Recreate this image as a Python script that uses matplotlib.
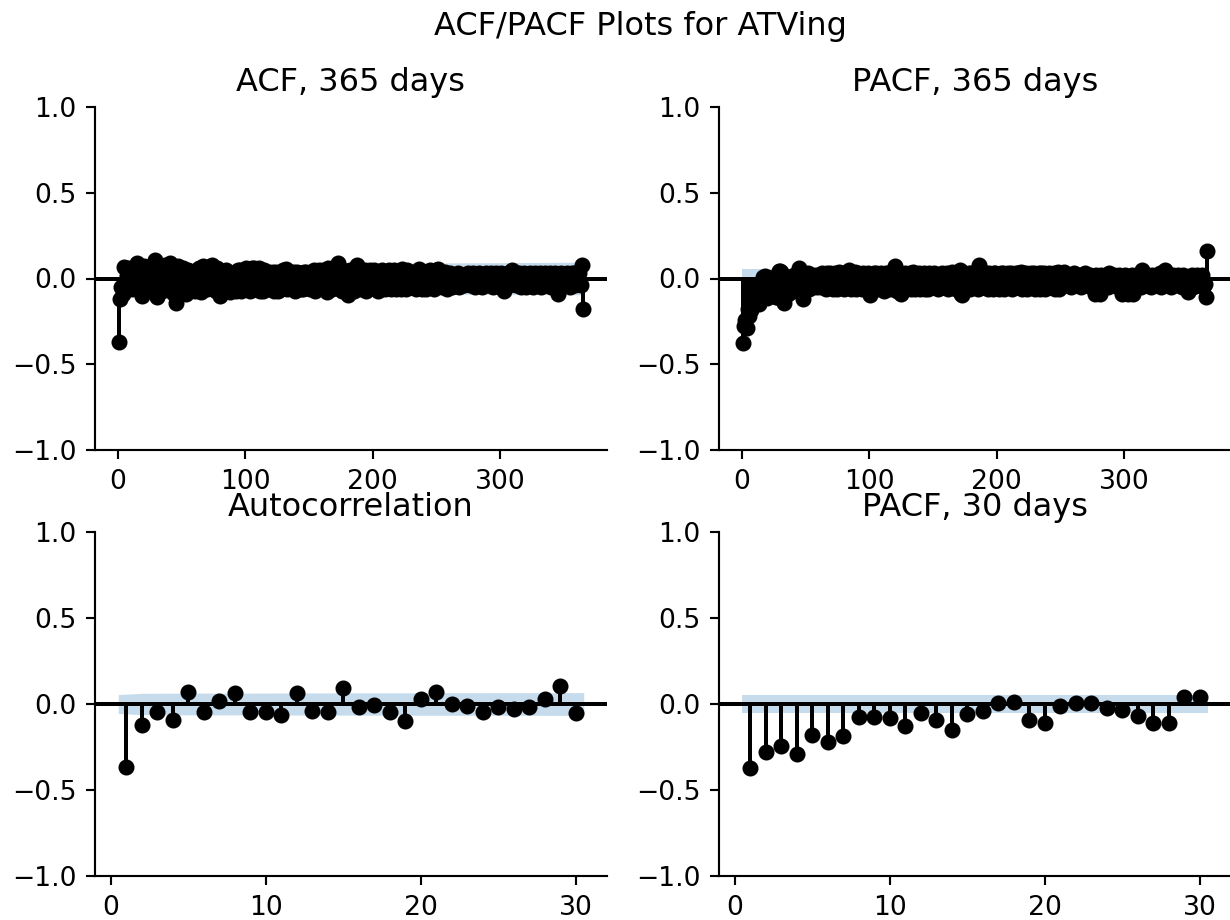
import numpy as np
import matplotlib
matplotlib.use("Agg")
import matplotlib.pyplot as plt

# ---------------- data ----------------
suptitle = "ACF/PACF Plots for ATVing"
titles = ["ACF, 365 days", "PACF, 365 days", "Autocorrelation", "PACF, 30 days"]
n_obs = 1270  # number of observations implied by the confidence band width

acf_30 = [-0.368, -0.12, -0.048, -0.093, 0.068, -0.048, 0.016, 0.064, -0.048, -0.045,
          -0.064, 0.064, -0.04, -0.045, 0.091, -0.02, -0.006, -0.045, -0.1, 0.03,
          0.072, 0.0, -0.014, -0.048, -0.02, -0.03, -0.02, 0.03, 0.107, -0.052]

pacf_30 = [-0.374, -0.277, -0.244, -0.291, -0.18, -0.219, -0.186, -0.074, -0.074, -0.079,
           -0.128, -0.05, -0.093, -0.151, -0.058, -0.039, 0.008, 0.014, -0.093, -0.112,
           -0.012, 0.004, 0.004, -0.021, -0.035, -0.07, -0.109, -0.109, 0.043, 0.043]

acf_365_tail = [
    -0.11, 0.04, -0.06, 0.06, -0.07, 0.03, 0.08, -0.06, 0.05, -0.04,
    0.09, -0.07, 0.05, -0.09, 0.04, -0.14, 0.07, -0.05, 0.03, -0.08,
    0.06, -0.05, 0.04, -0.09, 0.05, 0.045, -0.07, 0.04, -0.06, 0.04,
    -0.07, 0.05, -0.04, 0.06, -0.08, 0.03, 0.07, -0.05, 0.04, -0.06,
    0.05, -0.04, 0.07, 0.08, -0.06, 0.04, -0.07, 0.06, -0.05, -0.1,
    0.04, -0.08, 0.03, -0.06, 0.05, -0.04, 0.03, -0.08, 0.02, 0.03,
    -0.06, 0.04, -0.07, 0.05, -0.04, 0.05, -0.07, 0.03, -0.05, 0.05,
    0.06, -0.06, 0.03, -0.07, 0.06, -0.04, 0.06, -0.06, 0.04, -0.05,
    0.06, -0.07, 0.03, -0.07, 0.05, -0.05, 0.03, -0.06, 0.04, -0.04,
    0.02, 0.04, -0.07, 0.04, -0.04, -0.07, 0.03, -0.06, 0.04, 0.05,
    -0.05, 0.055, -0.06, 0.03, -0.05, 0.04, -0.04, 0.04, -0.07, 0.02,
    0.04, -0.05, 0.03, -0.06, -0.06, 0.04, -0.04, 0.04, -0.05, 0.03,
    -0.06, 0.04, -0.04, 0.05, -0.07, 0.03, -0.05, 0.05, -0.05, 0.02,
    0.05, -0.05, 0.03, -0.08, 0.06, -0.04, 0.04, -0.06, 0.03, -0.05,
    0.05, -0.04, 0.09, -0.06, 0.03, -0.07, 0.05, -0.04, 0.04, -0.07,
    -0.095, 0.05, -0.04, 0.05, -0.07, 0.03, 0.04, 0.08, -0.05, 0.03,
    -0.06, 0.04, -0.04, 0.05, -0.07, 0.03, -0.05, 0.05, -0.05, 0.02,
    0.05, -0.06, 0.03, -0.07, 0.04, -0.04, 0.05, -0.05, 0.02, -0.06,
    0.04, -0.04, 0.05, -0.06, 0.03, -0.05, 0.05, -0.06, 0.03, -0.03,
    0.04, -0.06, 0.055, -0.04, 0.03, -0.06, 0.05, -0.04, 0.04, -0.05,
    0.03, -0.05, 0.04, -0.06, 0.04, 0.055, -0.04, 0.03, -0.06, 0.02,
    0.04, -0.06, 0.03, -0.05, 0.05, -0.03, 0.04, -0.06, 0.03, 0.05,
    0.055, -0.03, 0.02, -0.05, 0.03, -0.02, 0.04, -0.06, 0.01, -0.03,
    0.03, -0.05, 0.02, -0.04, 0.01, -0.03, 0.03, -0.05, 0.02, -0.02,
    0.02, -0.04, 0.01, -0.03, 0.03, -0.04, 0.02, -0.03, 0.03, -0.05,
    0.02, -0.03, 0.03, -0.04, 0.01, -0.05, 0.02, -0.03, 0.03, -0.02,
    0.01, -0.04, 0.03, -0.05, 0.02, -0.03, 0.03, -0.04, 0.02, -0.05,
    0.03, -0.04, -0.07, 0.02, -0.03, 0.03, -0.04, 0.04, 0.05, -0.03,
    0.02, -0.04, 0.03, -0.02, 0.03, -0.05, 0.02, -0.03, 0.03, -0.05,
    0.02, -0.03, 0.03, -0.04, 0.02, -0.05, 0.03, -0.02, 0.02, -0.04,
    0.03, -0.05, 0.02, -0.03, 0.03, -0.04, 0.02, -0.03, 0.03, -0.05,
    0.02, -0.04, 0.03, -0.06, -0.09, 0.02, -0.03, 0.03, -0.04, 0.02,
    -0.03, 0.03, -0.04, 0.02, -0.05, 0.03, -0.02, 0.03, -0.04, 0.02,
    -0.03, 0.03, -0.04, 0.08, -0.175]

pacf_365_tail = [
    0.04, -0.08, -0.145, -0.05, -0.02, -0.09, 0.01, -0.06, -0.03, -0.07,
    0.02, -0.05, -0.01, 0.03, 0.06, -0.04, -0.02, -0.12, 0.01, -0.06,
    -0.04, 0.03, -0.06, -0.01, 0.02, -0.05, 0.01, 0.02, -0.05, -0.04,
    0.01, -0.05, 0.03, -0.04, 0.02, -0.06, 0.03, -0.02, 0.03, -0.05,
    0.02, -0.06, 0.03, -0.03, -0.06, 0.04, 0.0, -0.05, 0.03, -0.06,
    0.02, -0.05, 0.03, 0.05, -0.03, -0.06, 0.03, -0.03, 0.04, -0.06,
    0.03, -0.05, 0.02, -0.06, 0.03, -0.04, 0.02, -0.06, 0.03, -0.07,
    -0.095, 0.02, -0.05, 0.03, 0.03, -0.06, 0.02, -0.04, 0.03, -0.06,
    0.02, -0.07, 0.03, -0.05, 0.03, -0.06, 0.02, -0.04, 0.04, 0.07,
    -0.04, -0.07, 0.03, -0.05, -0.09, 0.02, -0.05, 0.03, -0.06, 0.02,
    -0.04, 0.03, -0.06, 0.035, -0.03, -0.06, 0.02, -0.05, 0.03, -0.06,
    0.02, -0.05, 0.03, -0.06, 0.02, -0.06, 0.03, -0.04, 0.02, -0.05,
    0.03, -0.05, 0.02, -0.06, 0.02, -0.04, 0.03, -0.05, 0.02, -0.05,
    0.03, -0.06, 0.02, -0.04, 0.04, -0.05, 0.03, -0.06, 0.02, -0.04,
    0.05, -0.09, -0.095, 0.03, -0.05, 0.02, -0.04, 0.03, -0.06, 0.03,
    -0.05, 0.03, -0.04, 0.04, -0.06, 0.08, -0.04, 0.03, -0.05, 0.02,
    -0.05, 0.03, -0.06, 0.03, -0.04, 0.02, -0.06, 0.03, 0.03, -0.05,
    0.02, -0.06, 0.03, -0.04, 0.03, -0.06, 0.02, -0.05, 0.03, -0.05,
    0.03, -0.06, 0.02, -0.04, 0.03, -0.05, 0.03, -0.04, 0.04, -0.06,
    0.03, -0.05, 0.03, -0.06, 0.02, -0.04, 0.03, -0.05, 0.03, -0.06,
    0.02, -0.05, 0.03, -0.06, 0.03, -0.04, 0.03, -0.06, 0.02, -0.05,
    0.03, -0.05, 0.02, -0.04, 0.03, -0.06, 0.03, 0.04, -0.06, 0.02,
    -0.03, 0.02, 0.04, -0.04, 0.01, -0.03, 0.02, -0.05, 0.01, -0.02,
    0.03, -0.04, 0.01, -0.03, 0.02, -0.05, 0.01, -0.02, 0.03, -0.04,
    0.01, -0.03, 0.02, -0.05, 0.01, -0.04, -0.09, 0.02, -0.03, 0.01,
    -0.09, 0.02, -0.04, 0.01, -0.03, 0.02, -0.05, 0.03, -0.02, 0.01,
    -0.04, 0.02, -0.03, 0.01, -0.05, 0.02, -0.03, -0.09, 0.01, -0.04,
    0.02, -0.05, -0.09, 0.01, -0.03, 0.02, -0.09, 0.01, -0.04, 0.02,
    -0.03, 0.02, -0.05, 0.05, -0.02, 0.01, -0.04, 0.02, -0.03, 0.01,
    -0.05, 0.02, -0.03, 0.01, -0.04, 0.02, -0.02, 0.03, -0.05, 0.02,
    -0.03, 0.05, -0.04, 0.02, -0.03, 0.01, -0.05, 0.02, -0.02, 0.01,
    -0.04, 0.02, -0.03, 0.01, -0.05, 0.02, -0.03, 0.01, -0.04, -0.08,
    0.01, -0.03, 0.02, -0.05, 0.01, -0.02, 0.02, -0.04, 0.01, -0.03,
    0.02, -0.05, -0.03, -0.11, 0.16]

acf_365 = acf_30 + acf_365_tail
pacf_365 = pacf_30 + pacf_365_tail

xticks_365 = [0, 100, 200, 300]
xticks_30 = [0, 10, 20, 30]
yticks = [-1.0, -0.5, 0.0, 0.5, 1.0]


# ---------------- helpers ----------------
def acf_band(vals):
    v = np.asarray(vals, dtype=float)
    cum = np.concatenate([[0.0], np.cumsum(v[:-1] ** 2)])
    return 1.96 * np.sqrt((1 + 2 * cum) / n_obs)


def pacf_band(vals):
    return np.full(len(vals), 1.96 / np.sqrt(n_obs))


def corr_plot(ax, vals, band, title, xticks):
    vals = np.asarray(vals, dtype=float)
    lags = np.arange(1, len(vals) + 1)
    ax.vlines(lags, [0], vals, colors="black", linewidth=1.5)
    ax.axhline(0, color="black", linewidth=1.5)
    ax.plot(lags, vals, marker="o", markersize=5, linestyle="None", color="black")
    lx = lags.astype(float)
    lx[0] -= 0.5
    lx[-1] += 0.5
    ax.fill_between(lx, -band, band, alpha=0.25, linewidth=0, color="C0")
    ax.margins(0.05)
    ax.set_ylim(-1, 1)
    ax.set_yticks(yticks)
    ax.set_xticks(xticks)
    ax.set_title(title, fontsize=12)
    ax.spines["top"].set_visible(False)
    ax.spines["right"].set_visible(False)
    ax.tick_params(labelsize=10)


# ---------------- figure ----------------
W, H = 1230, 920
fig = plt.figure(figsize=(W / 192, H / 192), dpi=192)

aw = 512 / W
ah = 343 / H
ax_tl = fig.add_axes([95 / W, (H - 450) / H, aw, ah])
ax_tr = fig.add_axes([719 / W, (H - 450) / H, aw, ah])
ax_bl = fig.add_axes([95 / W, (H - 876) / H, aw, 344 / H])
ax_br = fig.add_axes([719 / W, (H - 876) / H, aw, 344 / H])

corr_plot(ax_tl, acf_365, acf_band(acf_365), titles[0], xticks_365)
corr_plot(ax_tr, pacf_365, pacf_band(pacf_365), titles[1], xticks_365)
corr_plot(ax_bl, acf_30, acf_band(acf_30), titles[2], xticks_30)
corr_plot(ax_br, pacf_30, pacf_band(pacf_30), titles[3], xticks_30)

fig.text(640 / W, 1 - 27 / H, suptitle, ha="center", va="center", fontsize=12)

fig.savefig("out.png", dpi=192)
